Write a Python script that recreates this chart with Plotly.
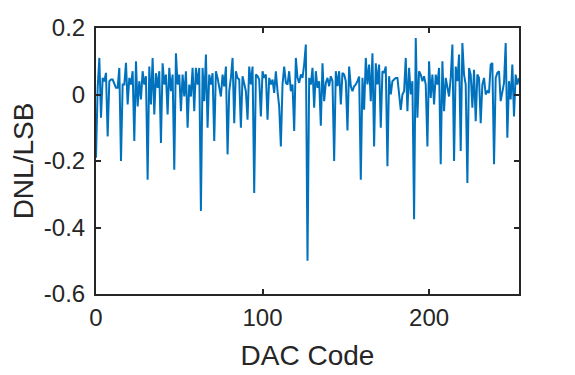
import plotly.graph_objects as go

# DNL per DAC code
dnl = [
    -0.19, 0.02, 0.11, -0.07, 0.05, 0.04, 0.065, -0.126, 0.04, 0.045,
    0.045, 0.03, 0.02, 0.02, 0.08, -0.2, 0.03, 0.03, 0.095, -0.03,
    0.05, 0.03, 0.07, -0.14, 0.1, -0.036, 0.04, -0.015, 0.07, 0.03,
    0.055, -0.256, 0.084, -0.03, 0.11, -0.06, 0.064, 0.02, 0.07, -0.146,
    0.094, 0.03, 0.06, -0.06, 0.08, 0.01, 0.06, -0.226, 0.124, 0.03,
    0.06, -0.05, 0.06, -0.006, 0.07, -0.1, 0.03, -0.006, 0.08, -0.05,
    0.08, 0.03, 0.08, -0.35, 0.08, -0.02, 0.12, -0.1, 0.06, 0.03,
    0.064, -0.14, 0.07, 0.05, 0.024, -0.006, 0.06, 0.024, 0.084, -0.18,
    0.01, 0.05, 0.11, -0.086, 0.07, 0.05, 0.045, -0.1, 0.055, 0.035,
    0.01, -0.076, 0.084, 0.03, 0.084, -0.296, 0.06, 0.055, 0.045, -0.066,
    0.07, 0.05, 0.06, -0.076, 0.05, 0.03, 0.045, 0.005, 0.07, 0.01,
    -0.036, -0.156, 0.03, 0.084, 0.035, 0.03, 0.07, 0.01, 0.03, -0.11,
    0.11, 0.05, 0.035, 0.06, 0.05, 0.09, 0.15, -0.5, 0.05, 0.03,
    0.08, -0.04, 0.07, 0.02, 0.04, -0.094, 0.094, -0.02, 0.035, 0.05,
    0.025, 0.055, 0.04, -0.2, 0.07, 0.025, 0.07, -0.03, 0.065, 0.06,
    0.04, -0.108, 0.084, 0.025, 0.01, 0.025, 0.03, 0.04, 0.054, -0.256,
    0.05, -0.046, 0.11, 0.03, 0.09, -0.02, 0.124, -0.156, 0.094, 0.03,
    0.09, -0.1, 0.07, 0.065, 0.084, -0.216, 0.055, 0.0, 0.04, 0.045,
    0.05, 0.05, -0.006, -0.046, 0.0, 0.01, 0.11, -0.05, 0.08, 0.0,
    0.04, -0.375, 0.17, -0.07, 0.07, 0.06, 0.04, 0.055, 0.03, -0.156,
    0.1, -0.01, 0.06, -0.03, 0.06, 0.03, 0.08, -0.21, 0.1, -0.05,
    0.05, 0.02, -0.006, 0.05, 0.15, -0.2, 0.084, 0.04, 0.12, -0.17,
    0.155, 0.06, 0.03, -0.266, 0.08, 0.06, -0.04, 0.074, -0.08, 0.06,
    0.05, -0.086, 0.03, 0.05, 0.0, 0.01, 0.005, 0.09, 0.095, -0.21,
    0.05, 0.065, 0.07, -0.02, 0.01, 0.035, 0.155, -0.13, 0.04, -0.015,
    0.09, -0.066, 0.06, 0.03, 0.05,
]
codes = list(range(len(dnl)))

x_ticks = [0, 100, 200]
y_ticks = [-0.6, -0.4, -0.2, 0, 0.2]
y_tick_text = ["-0.6", "-0.4", "-0.2", "0", "0.2"]

fig = go.Figure()
fig.add_trace(go.Scatter(x=codes, y=dnl, mode="lines",
                         line=dict(color="#0072BD", width=2)))

axis_style = dict(showline=True, linecolor="#262626", linewidth=2, mirror="ticks",
                  ticks="inside", ticklen=5, tickwidth=1.5, tickcolor="#262626",
                  showgrid=False, zeroline=False, automargin=False,
                  tickfont=dict(family="Liberation Sans, Arial", size=24, color="#262626"))

# the page body adds ~8px offset, so margins are shifted to compensate
fig.update_layout(
    width=575, height=375,
    margin=dict(l=88, r=64, t=20, b=89),
    paper_bgcolor="white", plot_bgcolor="white",
    showlegend=False,
    font=dict(family="Liberation Sans, Arial", color="#262626"),
    xaxis=dict(range=[0, 254], tickvals=x_ticks, ticklabelstandoff=1,
               title=dict(text="DAC Code", font=dict(size=28), standoff=16),
               **axis_style),
    yaxis=dict(range=[-0.6, 0.2], tickvals=y_ticks, ticktext=y_tick_text,
               ticklabelstandoff=4,
               title=dict(text="DNL/LSB", font=dict(size=28), standoff=23),
               **axis_style),
)

fig.write_html("out.html")
